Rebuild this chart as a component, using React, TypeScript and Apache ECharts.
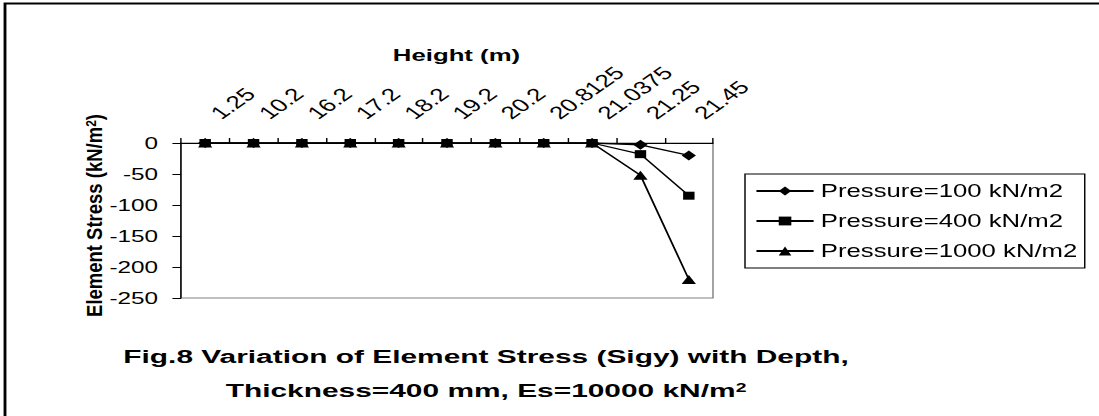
import React, { useEffect, useRef } from "react";
import * as echarts from "echarts";

// ---- data ----
const heights = ["1.25", "10.2", "16.2", "17.2", "18.2", "19.2", "20.2", "20.8125", "21.0375", "21.25", "21.45"];
const p100 = [0, 0, 0, 0, 0, 0, 0, 0, 0, -3, -20];
const p400 = [0, 0, 0, 0, 0, 0, 0, 0, 0, -18, -85];
const p1000 = [0, 0, 0, 0, 0, 0, 0, 0, 0, -52, -220];
const seriesNames = ["Pressure=100 kN/m2", "Pressure=400 kN/m2", "Pressure=1000 kN/m2"];
const yMin = -250;
const yMax = 0;
const yStep = 50;

// horizontal stretch of the original picture
const S = 1.43;
const W = 1099 / S;
const H = 416;
const FONT = '"Liberation Sans", Arial, Helvetica, sans-serif';

const gridLeft = 181 / S;
const gridRight = 713 / S;
const gridTop = 143;
const gridBottom = 298;
const gridMidY = (gridTop + gridBottom) / 2;

export default function App() {
  const ref = useRef<HTMLDivElement>(null);
  useEffect(() => {
    if (!ref.current) return;
    const chart = echarts.init(ref.current, undefined, { renderer: "svg", width: W, height: H });
    const lineStyle = { color: "#000", width: 1.3 };
    chart.setOption({
      animation: false,
      backgroundColor: "#fff",
      textStyle: { fontFamily: FONT, color: "#000" },
      grid: {
        left: gridLeft,
        top: gridTop,
        width: gridRight - gridLeft,
        height: gridBottom - gridTop,
        show: true,
        borderColor: "#808080",
        borderWidth: 1,
        backgroundColor: "transparent",
      },
      xAxis: {
        type: "category",
        position: "top",
        data: heights,
        boundaryGap: true,
        axisLine: { lineStyle: { color: "#000", width: 1 } },
        axisTick: { show: true, inside: false, length: 5, interval: 0, lineStyle: { color: "#000" } },
        axisLabel: {
          interval: 0,
          rotate: 45,
          fontSize: 18,
          fontFamily: FONT,
          color: "#000",
          margin: 20,
          padding: [0, 0, 0, 10],
        },
        splitLine: { show: false },
      },
      yAxis: {
        type: "value",
        min: yMin,
        max: yMax,
        interval: yStep,
        axisLine: { show: true, lineStyle: { color: "#000", width: 1 } },
        axisTick: { show: true, length: 6, lineStyle: { color: "#000" } },
        axisLabel: { fontSize: 17, fontFamily: FONT, color: "#000", margin: 16 },
        splitLine: { show: false },
      },
      legend: {
        orient: "vertical",
        left: 745 / S,
        top: 174,
        padding: [8, 5, 8, 7],
        itemGap: 12,
        itemWidth: 40,
        itemHeight: 11,
        borderColor: "#000",
        borderWidth: 1,
        backgroundColor: "#fff",
        textStyle: { fontSize: 18, fontFamily: FONT, color: "#000", lineHeight: 18 },
        data: seriesNames,
      },
      series: [
        {
          name: seriesNames[0],
          type: "line",
          data: p100,
          symbol: "diamond",
          symbolSize: 10,
          lineStyle,
          itemStyle: { color: "#000" },
        },
        {
          name: seriesNames[1],
          type: "line",
          data: p400,
          symbol: "rect",
          symbolSize: 8,
          lineStyle,
          itemStyle: { color: "#000" },
        },
        {
          name: seriesNames[2],
          type: "line",
          data: p1000,
          symbol: "triangle",
          symbolSize: [10, 9],
          lineStyle,
          itemStyle: { color: "#000" },
        },
      ],
      graphic: [
        {
          type: "rect",
          silent: true,
          z: -1,
          shape: { x: 3.5, y: 3.5, width: 3000, height: 3000 },
          style: { fill: "none", stroke: "#000", lineWidth: 2 },
        },
        {
          type: "text",
          x: 456.5 / S,
          y: 55,
          scaleX: 1.06,
          style: {
            text: "Height (m)",
            fontSize: 17,
            fontWeight: "bold",
            fontFamily: FONT,
            fill: "#000",
            align: "center",
            verticalAlign: "middle",
          },
        },
        {
          type: "text",
          x: 95 / S,
          y: gridMidY - 5,
          rotation: Math.PI / 2,
          scaleY: 0.8,
          style: {
            text: "Element Stress (kN/m{sup|2})",
            fontSize: 18.5,
            fontWeight: "bold",
            fontFamily: FONT,
            fill: "#000",
            align: "center",
            verticalAlign: "middle",
            rich: {
              sup: { fontSize: 12, fontWeight: "bold", fontFamily: FONT, fill: "#000", verticalAlign: "top", lineHeight: 18 },
            },
          },
        },
        {
          type: "text",
          x: 486 / S,
          y: 357,
          scaleX: 1.13,
          style: {
            text: "Fig.8 Variation of Element Stress (Sigy) with Depth,",
            fontSize: 18.5,
            fontWeight: "bold",
            fontFamily: FONT,
            fill: "#000",
            align: "center",
            verticalAlign: "middle",
          },
        },
        {
          type: "text",
          x: 486 / S,
          y: 391,
          scaleX: 1.13,
          style: {
            text: "Thickness=400 mm, Es=10000 kN/m{sup|2}",
            fontSize: 18.5,
            fontWeight: "bold",
            fontFamily: FONT,
            fill: "#000",
            align: "center",
            verticalAlign: "middle",
            rich: {
              sup: { fontSize: 12, fontWeight: "bold", fontFamily: FONT, fill: "#000", verticalAlign: "top", lineHeight: 18 },
            },
          },
        },
      ],
    });
    return () => chart.dispose();
  }, []);

  return (
    <div style={{ position: "fixed", left: 0, top: 0, width: 1099, height: 416, overflow: "hidden", background: "#fff" }}>
      <div ref={ref} style={{ width: W, height: H, transform: `scaleX(${S})`, transformOrigin: "0 0" }} />
    </div>
  );
}
